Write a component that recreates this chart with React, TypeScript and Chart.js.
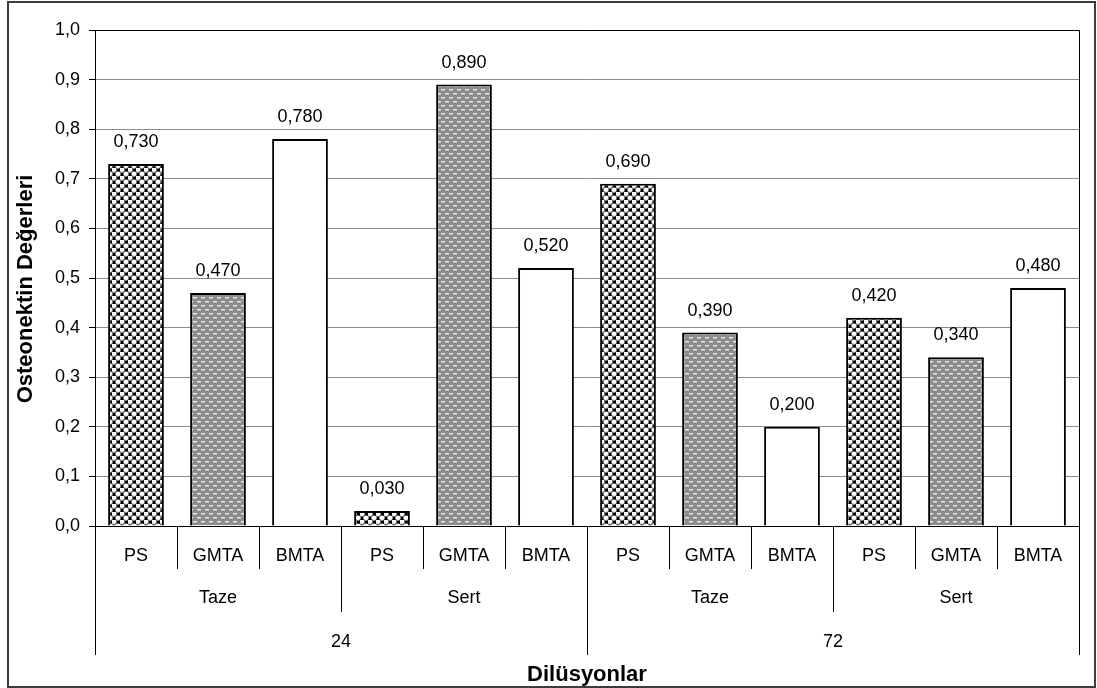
import React, { useEffect, useRef } from "react";
import { Chart, registerables } from "chart.js";

Chart.register(...registerables);

const materials = ["PS", "GMTA", "BMTA", "PS", "GMTA", "BMTA", "PS", "GMTA", "BMTA", "PS", "GMTA", "BMTA"];
const states = ["Taze", "Sert", "Taze", "Sert"];
const hours = ["24", "72"];
const values = [0.73, 0.47, 0.78, 0.03, 0.89, 0.52, 0.69, 0.39, 0.2, 0.42, 0.34, 0.48];
const yTitle = "Osteonektin Değerleri";
const xTitle = "Dilüsyonlar";

const FONT = "'Liberation Sans', Arial, sans-serif";

function makePSPattern(ctx: CanvasRenderingContext2D) {
  const c = document.createElement("canvas");
  c.width = 8;
  c.height = 8;
  const g = c.getContext("2d")!;
  g.fillStyle = "#000000";
  g.fillRect(0, 0, 8, 8);
  const circle = (cx: number, cy: number) => {
    g.fillStyle = "#ffffff";
    g.beginPath();
    g.arc(cx, cy, 2.6, 0, Math.PI * 2);
    g.fill();
    g.strokeStyle = "#7a7a7a";
    g.lineWidth = 0.9;
    g.beginPath();
    g.arc(cx, cy + 0.3, 2.0, 0.15 * Math.PI, 0.85 * Math.PI);
    g.stroke();
  };
  circle(2, 2);
  circle(6, 6);
  circle(-2, 6);
  circle(6, -2);
  circle(10, 6);
  circle(6, 10);
  return ctx.createPattern(c, "repeat")!;
}

function makeGMTAPattern(ctx: CanvasRenderingContext2D) {
  const c = document.createElement("canvas");
  c.width = 8;
  c.height = 8;
  const g = c.getContext("2d")!;
  g.fillStyle = "#8c8c8c";
  g.fillRect(0, 0, 8, 8);
  g.fillStyle = "#ececec";
  g.fillRect(1, 1, 4, 1);
  g.fillRect(5, 5, 3, 1);
  g.fillRect(0, 5, 1, 1);
  g.fillStyle = "#b8b8b8";
  g.fillRect(1, 2, 4, 1);
  g.fillRect(5, 6, 3, 1);
  g.fillRect(0, 6, 1, 1);
  return ctx.createPattern(c, "repeat")!;
}

const decorPlugin = {
  id: "decor",
  afterDatasetsDraw(chart: any) {
    const ctx: CanvasRenderingContext2D = chart.ctx;
    const meta = chart.getDatasetMeta(0);
    ctx.save();
    ctx.fillStyle = "#000";
    ctx.font = `18px ${FONT}`;
    ctx.textAlign = "center";
    ctx.textBaseline = "alphabetic";
    meta.data.forEach((el: any, i: number) => {
      ctx.fillText(values[i].toFixed(3).replace(".", ","), el.x, el.y - 17);
    });
    ctx.restore();
  },
  afterDraw(chart: any) {
    const ctx: CanvasRenderingContext2D = chart.ctx;
    const { left, right, top, bottom } = chart.chartArea;
    const xs = chart.scales.x;
    const n = materials.length;
    ctx.save();
    // outer frame
    ctx.strokeStyle = "#3c3c3c";
    ctx.lineWidth = 2;
    ctx.strokeRect(8, 2, 1087, 685);
    // plot area top/right border
    ctx.strokeStyle = "#000";
    ctx.lineWidth = 1;
    ctx.beginPath();
    ctx.moveTo(left, top + 0.5);
    ctx.lineTo(right + 0.5, top + 0.5);
    ctx.lineTo(right + 0.5, bottom);
    ctx.stroke();
    // category separators
    const bound = (i: number) =>
      i === 0 ? left : i === n ? right : (xs.getPixelForValue(i - 1) + xs.getPixelForValue(i)) / 2;
    for (let i = 0; i <= n; i++) {
      const len = i % 6 === 0 ? 129 : i % 3 === 0 ? 86 : 43;
      const x = Math.round(bound(i)) + 0.5;
      ctx.beginPath();
      ctx.moveTo(x, bottom);
      ctx.lineTo(x, bottom + len);
      ctx.stroke();
    }
    ctx.fillStyle = "#000";
    ctx.font = `18px ${FONT}`;
    ctx.textAlign = "center";
    ctx.textBaseline = "alphabetic";
    materials.forEach((m, i) => {
      ctx.fillText(m, xs.getPixelForValue(i), bottom + 35);
    });
    states.forEach((s, g) => {
      ctx.fillText(s, (bound(g * 3) + bound(g * 3 + 3)) / 2, bottom + 77);
    });
    hours.forEach((h, g) => {
      ctx.fillText(h, (bound(g * 6) + bound(g * 6 + 6)) / 2, bottom + 121);
    });
    // y axis title
    ctx.font = `bold 22px ${FONT}`;
    ctx.textBaseline = "middle";
    ctx.translate(26, (top + bottom) / 2 + 11);
    ctx.rotate(-Math.PI / 2);
    ctx.fillText(yTitle, 0, 0);
    ctx.restore();
  },
};

export default function App() {
  const ref = useRef<HTMLCanvasElement | null>(null);
  useEffect(() => {
    const canvas = ref.current!;
    const ctx = canvas.getContext("2d")!;
    const ps = makePSPattern(ctx);
    const gm = makeGMTAPattern(ctx);
    const fills = materials.map((m) => (m === "PS" ? ps : m === "GMTA" ? gm : "#ffffff"));
    const chart = new Chart(canvas, {
      type: "bar",
      data: {
        labels: materials,
        datasets: [
          {
            data: values,
            backgroundColor: fills as any,
            borderColor: "#000",
            borderWidth: 2,
            borderSkipped: "bottom",
            categoryPercentage: 1,
            barPercentage: 0.68,
          },
        ],
      },
      options: {
        responsive: false,
        animation: false,
        devicePixelRatio: 1,
        layout: { padding: { left: 0, right: 18, top: 30, bottom: 0 } },
        plugins: { legend: { display: false }, tooltip: { enabled: false } },
        scales: {
          x: {
            type: "category",
            grid: { display: false },
            ticks: { display: false },
            border: { display: true, color: "#000", width: 1 },
            title: {
              display: true,
              text: xTitle,
              color: "#000",
              font: { family: FONT, size: 22, weight: "bold" },
              padding: { top: 9, bottom: 0 },
            },
            afterFit: (s: any) => {
              s.height = 162;
            },
          },
          y: {
            min: 0,
            max: 1,
            ticks: {
              stepSize: 0.1,
              color: "#000",
              padding: 9,
              font: { family: FONT, size: 18 },
              callback: (v: any) => Number(v).toFixed(1).replace(".", ","),
            },
            grid: { color: "#8c8c8c", tickLength: 6, tickColor: "#000", lineWidth: 1 },
            border: { display: true, color: "#000", width: 1 },
            title: { display: false },
            afterFit: (s: any) => {
              s.width = 95;
            },
          },
        },
      },
      plugins: [decorPlugin],
    });
    return () => chart.destroy();
  }, []);
  return (
    <div style={{ position: "fixed", left: 0, top: 0, width: 1097, height: 688, background: "#fff" }}>
      <canvas ref={ref} width={1097} height={688} style={{ display: "block" }} />
    </div>
  );
}
